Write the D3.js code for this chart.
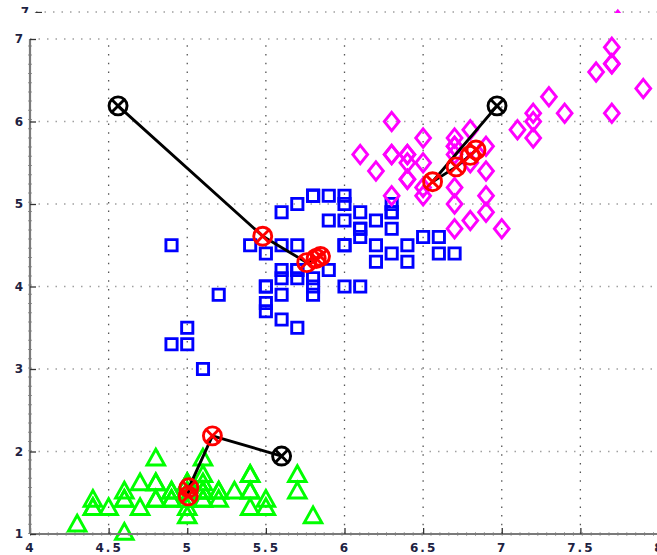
<!DOCTYPE html>
<html>
<head>
<meta charset="utf-8">
<script src="https://cdn.jsdelivr.net/npm/d3@7"></script>
<style>
  body { margin: 0; background: #fff; overflow: hidden; }
  svg { display: block; }
</style>
</head>
<body>
<svg id="chart" width="657" height="555"></svg>
<script>
// Iris sepal length (x) against petal length (y), grouped by 3-means clustering,
// with the path each centroid took from its starting guess to its final position.

const xTicks = [4, 4.5, 5, 5.5, 6, 6.5, 7, 7.5, 8];
const yTicks = [1, 2, 3, 4, 5, 6, 7];

// Cluster drawn with triangles
const triX = [5.1,4.9,4.7,4.6,5.0,5.4,4.6,5.0,4.4,4.9,5.4,4.8,4.8,4.3,5.8,5.7,5.4,5.1,5.7,5.1,
              5.4,5.1,4.6,5.1,4.8,5.0,5.0,5.2,5.2,4.7,4.8,5.4,5.2,5.5,4.9,5.0,5.5,4.9,4.4,5.1,
              5.0,4.5,4.4,5.0,5.1,4.8,5.1,4.6,5.3,5.0];
const triY = [1.4,1.4,1.3,1.5,1.4,1.7,1.4,1.5,1.4,1.5,1.5,1.6,1.4,1.1,1.2,1.5,1.3,1.4,1.7,1.5,
              1.7,1.5,1.0,1.7,1.9,1.6,1.6,1.5,1.4,1.6,1.6,1.5,1.5,1.4,1.5,1.2,1.3,1.4,1.3,1.5,
              1.3,1.3,1.3,1.6,1.9,1.4,1.6,1.4,1.5,1.4];

// Cluster drawn with squares
const sqX = [6.4,5.5,6.5,5.7,6.3,4.9,6.6,5.2,5.0,5.9,6.0,6.1,5.6,6.7,5.6,5.8,6.2,5.6,5.9,6.1,
             6.3,6.1,6.4,6.6,6.0,5.7,5.5,5.5,5.8,6.0,5.4,6.0,6.3,5.6,5.5,5.5,6.1,5.8,5.0,5.6,
             5.7,5.7,6.2,5.1,5.7,5.8,4.9,5.7,5.8,6.0,5.6,6.3,6.2,6.1,6.0,5.8,6.3,5.9];
const sqY = [4.5,4.0,4.6,4.5,4.7,3.3,4.6,3.9,3.5,4.2,4.0,4.7,3.6,4.4,4.5,4.1,4.5,3.9,4.8,4.0,
             4.9,4.7,4.3,4.4,4.5,3.5,3.8,3.7,3.9,5.1,4.5,4.5,4.4,4.1,4.0,4.4,4.6,4.0,3.3,4.2,
             4.2,4.2,4.3,3.0,4.1,5.1,4.5,5.0,5.1,5.0,4.9,4.9,4.8,4.9,4.8,5.1,5.0,5.1];

// Cluster drawn with diamonds
const diaX = [7.0,6.9,6.8,6.7,6.7,
              6.3,7.1,6.3,6.5,7.6,7.3,6.7,7.2,6.5,6.4,6.8,6.4,6.5,7.7,7.7,6.9,7.7,6.7,7.2,6.4,
              7.2,7.4,7.9,6.4,6.3,6.1,7.7,6.3,6.4,6.9,6.7,6.9,6.8,6.7,6.7,6.5,6.2];
const diaY = [4.7,4.9,4.8,5.0,4.7,
              6.0,5.9,5.6,5.8,6.6,6.3,5.8,6.1,5.1,5.3,5.5,5.3,5.5,6.7,6.9,5.7,6.7,5.7,6.0,5.6,
              5.8,6.1,6.4,5.6,5.1,5.6,6.1,5.6,5.5,5.4,5.6,5.1,5.9,5.7,5.2,5.2,5.4];

// Centroid paths: first entry is the starting guess, the rest are the updates
const pathSqX  = [4.56, 5.48, 5.76, 5.82, 5.847];
const pathSqY  = [6.19, 4.61, 4.29, 4.34, 4.364];
const pathDiaX = [6.97, 6.56, 6.71, 6.80, 6.836];
const pathDiaY = [6.19, 5.27, 5.45, 5.59, 5.655];
const pathTriX = [5.60, 5.16, 5.01, 5.006];
const pathTriY = [1.945, 2.19, 1.56, 1.462];

const zip = (a, b) => a.map((v, i) => [v, b[i]]);

const svg = d3.select('#chart');
const x = d3.scaleLinear().domain([4, 8]).range([30, 659]);
const y = d3.scaleLinear().domain([1, 7]).range([534, 39]);

const labelColor = '#1d2242';
const axisColor = '#7a7a7a';

// plotting area limit on the right side of the window
svg.append('clipPath').attr('id', 'plotArea')
  .append('rect').attr('x', 0).attr('y', 0).attr('width', 654).attr('height', 555);

function marker(g, pts, kind, color) {
  const sel = g.append('g').attr('fill', 'none').attr('stroke', color).attr('stroke-width', 2.9)
    .selectAll('path').data(pts).join('path')
    .attr('transform', d => `translate(${x(d[0])},${y(d[1])})`);
  if (kind === 'square') sel.attr('d', 'M-5.6,-5.6H5.6V5.6H-5.6Z');
  if (kind === 'diamond') sel.attr('d', 'M0,-9.2L7.4,0L0,9.2L-7.4,0Z');
  if (kind === 'triangle') sel.attr('d', 'M0,-10.5L8.8,5.3H-8.8Z');
}

function centroidPath(g, xs, ys) {
  const pts = zip(xs, ys);
  g.append('path').datum(pts)
    .attr('d', d3.line().x(d => x(d[0])).y(d => y(d[1])))
    .attr('fill', 'none').attr('stroke', '#000').attr('stroke-width', 2.9)
    .attr('stroke-linejoin', 'round');
  const r = 9, k = r * 0.7071;
  const c = g.append('g').selectAll('g').data(pts).join('g')
    .attr('transform', d => `translate(${x(d[0])},${y(d[1])})`)
    .attr('stroke', (d, i) => i === 0 ? '#000' : '#ff0000')
    .attr('stroke-width', 2.9).attr('fill', 'none');
  c.append('circle').attr('r', r);
  c.append('path').attr('d', `M${-k},${-k}L${k},${k}M${-k},${k}L${k},${-k}`);
}

function drawPanel(g, showX, showY) {
  const inner = g.append('g').attr('clip-path', 'url(#plotArea)');

  // dotted grid
  inner.append('g').selectAll('line').data(xTicks.filter(t => t > 4 && t < 8)).join('line')
    .attr('x1', d => x(d)).attr('x2', d => x(d))
    .attr('y1', y(1)).attr('y2', y(7))
    .attr('stroke', '#555').attr('stroke-width', 1.3).attr('stroke-dasharray', '1.5,7.2');
  inner.append('g').selectAll('line').data(yTicks.filter(t => t > 1)).join('line')
    .attr('x1', x(4)).attr('x2', x(8))
    .attr('y1', d => y(d)).attr('y2', d => y(d))
    .attr('stroke', '#a0a0a0').attr('stroke-width', 1.5).attr('stroke-dasharray', '1.5,7');

  // axes with inward ticks; labels only where they can be seen
  const ax = g.append('g').attr('transform', `translate(0,${y(1)})`)
    .call(d3.axisBottom(x).tickValues(xTicks).tickSize(-6).tickPadding(9)
      .tickFormat(d => showX(d) ? d3.format('')(d) : ''));
  const ay = g.append('g').attr('transform', `translate(${x(4)},0)`)
    .call(d3.axisLeft(y).tickValues(yTicks).tickSize(-6).tickPadding(7)
      .tickFormat(d => showY(d) ? d3.format('')(d) : ''));
  [ax, ay].forEach(a => {
    a.select('.domain').attr('stroke', axisColor).attr('stroke-width', 2.2);
    a.selectAll('.tick line').attr('stroke', '#333').attr('stroke-width', 1.3);
    a.selectAll('.tick text').filter(function () { return this.textContent === ''; }).remove();
    a.selectAll('.tick text')
      .attr('fill', labelColor)
      .style('font-family', '"DejaVu Sans", sans-serif')
      .style('font-weight', 'bold').style('font-size', '12px');
  });
  ax.selectAll('.tick text').style('letter-spacing', '2px');
  ax.select('.domain').attr('d', `M${x(4)},0H${x(8)}`);
  ay.select('.domain').attr('d', `M0,${y(1)}V${y(7)}`);

  // small marks along both axis lines
  inner.append('line').attr('x1', x(4)).attr('x2', x(8)).attr('y1', y(1)).attr('y2', y(1))
    .attr('stroke', '#555').attr('stroke-width', 3.2).attr('stroke-dasharray', '1,7.9');
  inner.append('line').attr('x1', x(4)).attr('x2', x(4)).attr('y1', y(1)).attr('y2', y(7))
    .attr('stroke', '#555').attr('stroke-width', 3.2).attr('stroke-dasharray', '1,8.2');

  // data points
  marker(inner, zip(sqX, sqY), 'square', '#0000ff');
  marker(inner, zip(diaX, diaY), 'diamond', '#ff00ff');
  marker(inner, zip(triX, triY), 'triangle', '#00ff00');

  // centroid updates
  centroidPath(inner, pathSqX, pathSqY);
  centroidPath(inner, pathDiaX, pathDiaY);
  centroidPath(inner, pathTriX, pathTriY);
}

// earlier frame peeking above the main plot (only its top edge shows)
svg.append('clipPath').attr('id', 'topStrip')
  .append('rect').attr('x', 0).attr('y', 0).attr('width', 657).attr('height', 13);
const ghost = svg.append('g').attr('clip-path', 'url(#topStrip)')
  .append('g').attr('transform', 'translate(6,-27)');
drawPanel(ghost, () => false, d => d === 7);

drawPanel(svg.append('g'), () => true, () => true);
</script>
</body>
</html>
